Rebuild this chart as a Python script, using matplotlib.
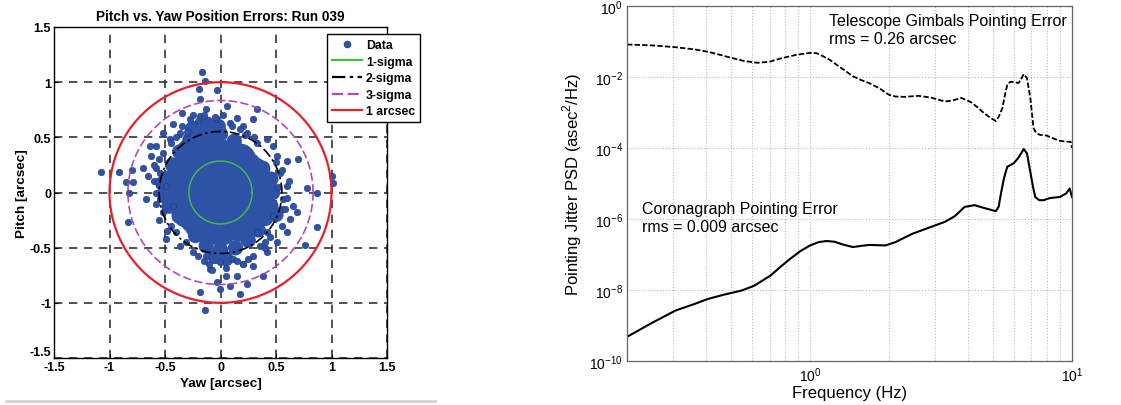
import numpy as np
import matplotlib
matplotlib.use('Agg')
import matplotlib.pyplot as plt
from matplotlib.lines import Line2D
from matplotlib.ticker import LogLocator, NullFormatter, NullLocator, FixedLocator

plt.rcParams['font.family'] = ['Liberation Sans', 'DejaVu Sans']
plt.rcParams['mathtext.fontset'] = 'custom'
plt.rcParams['mathtext.rm'] = 'Liberation Sans'

# ---------------------------------------------------------------
# Left panel data: pitch / yaw position errors (arcsec)
# ---------------------------------------------------------------
# dense centre of the cloud (drawn with large dots, they overlap into a solid blob)
core_big_x = [0.0, 0.18, -0.18, 0.0, 0.0, 0.13, -0.13, 0.13, -0.13,
              0.33, 0.29, 0.17, 0.0, -0.17, -0.29, -0.33, -0.29, -0.17, 0.0, 0.17, 0.29,
              -0.1, -0.25]
core_big_y = [0.0, 0.0, 0.0, 0.18, -0.18, 0.13, 0.13, -0.13, -0.13,
              0.0, 0.17, 0.29, 0.33, 0.29, 0.17, 0.0, -0.17, -0.29, -0.33, -0.29, -0.17,
              0.42, 0.35]

# edge of the blob
core_mid_x = [0.47, 0.454, 0.381, 0.283, 0.21, 0.124, 0.0, -0.145, -0.275, -0.368,
              -0.433, -0.483, -0.5, -0.464, -0.372, -0.283, -0.225, -0.129, 0.0, 0.135,
              0.25, 0.339, 0.407, 0.454, -0.12, -0.02, -0.25, 0.05, -0.05, 0.5, -0.52]
core_mid_y = [0.0, 0.122, 0.22, 0.283, 0.364, 0.464, 0.53, 0.541, 0.476, 0.368,
              0.25, 0.129, 0.0, -0.124, -0.215, -0.283, -0.39, -0.483, -0.52, -0.502,
              -0.433, -0.339, -0.235, -0.122, 0.62, 0.6, 0.58, -0.6, -0.58, -0.2, 0.08]

# individual scattered samples
pts_x = [-0.166, -0.142, -0.187, -0.036, 0.063, 0.325, 0.295, -0.193, -1.075, -0.91,
         -0.855, -0.789, -0.82, -0.795, -0.699, -0.669, -0.834, 1.009, 1.018, 0.867,
         0.867, 0.762, 0.777, 0.702, 0.596, 0.657, 0.627, -0.187, -0.142, 0.175,
         0.235, -0.096, -0.036, 0.084, 0.054, 0.295, -0.428, -0.578, -0.623, -0.488,
         -0.367, -0.307, -0.277, -0.127, 0.145, 0.416, 0.506, 0.536, 0.476, 0.416,
         0.355, 0.506, 0.596, 0.687, -0.488, -0.578, -0.548, -0.639, -0.518, -0.458,
         -0.518, -0.367, -0.187, -0.036, 0.084, 0.235, 0.325, 0.476, -0.428, -0.518,
         -0.548, -0.578, 0.295, 0.114, -0.006, -0.127, -0.247, -0.398, -0.307, 0.386,
         0.145, -0.006, 0.325, 0.416, 0.566, 0.596, -0.35, -0.25, 0.02, 0.2,
         -0.6, -0.65, 0.55, 0.62, -0.08, 0.05, 0.2, -0.45, 0.4, 0.52,
         -0.45, -0.4, -0.35, -0.3, -0.2, -0.15, -0.05, 0.1, 0.18, -0.55,
         -0.6, -0.56, -0.58, -0.55, 0.55, 0.58, 0.55, 0.5, 0.45, 0.4,
         0.25, 0.2, 0.15, -0.1, -0.15, -0.2, 0.3, 0.22, -0.48, 0.6]
pts_y = [1.093, 1.01, 0.843, 0.928, 0.783, 0.759, 0.663, 0.934, 0.187, 0.187,
         0.096, 0.096, 0.0, 0.2, 0.226, -0.06, -0.265, 0.151, 0.09, 0.0,
         -0.31, -0.476, 0.045, 0.301, 0.286, -0.12, -0.241, -0.904, -1.069, -0.919,
         -0.828, -0.693, -0.813, -0.843, -0.753, -0.663, 0.617, 0.422, 0.331, -0.422,
         -0.482, 0.482, 0.663, 0.753, 0.678, 0.482, 0.331, 0.181, -0.211, -0.361,
         -0.482, -0.452, -0.361, -0.181, 0.06, 0.0, 0.181, 0.422, 0.361, 0.482,
         0.542, 0.542, 0.693, 0.663, 0.633, 0.542, 0.452, 0.422, -0.12, -0.181,
         -0.06, 0.226, -0.572, -0.602, -0.633, -0.572, -0.542, -0.361, -0.452, -0.753,
         -0.753, -0.873, -0.361, -0.542, -0.06, 0.06, 0.72, 0.7, 0.7, 0.6,
         0.1, 0.15, -0.15, 0.1, -0.7, -0.68, -0.65, -0.3, -0.45, 0.05,
         0.45, 0.5, 0.6, 0.55, 0.65, 0.7, 0.68, 0.6, 0.58, 0.3,
         0.25, 0.1, -0.1, -0.25, -0.3, -0.15, 0.2, 0.28, -0.4, -0.5,
         -0.6, -0.65, -0.62, -0.65, -0.62, -0.58, 0.5, 0.52, -0.35, -0.05]

ring_names = ['1-sigma', '2-sigma', '3-sigma', '1 arcsec']
ring_radius = [0.285, 0.553, 0.834, 1.0]
ring_colors = ['#3FC43F', 'black', '#B548B5', '#E8202E']
ring_styles = ['-', (0, (6, 2, 1.5, 2)), (0, (5, 2)), '-']
ring_widths = [1.0, 1.2, 1.2, 1.6]

# ---------------------------------------------------------------
# Right panel data: pointing jitter PSD (asec^2/Hz) vs frequency (Hz)
# ---------------------------------------------------------------
gimbal_f = [0.2, 0.25, 0.306, 0.36, 0.408, 0.45, 0.5, 0.56, 0.63, 0.7, 0.77, 0.88, 1.0,
            1.06, 1.12, 1.19, 1.26, 1.36, 1.456, 1.56, 1.68, 1.84, 2.0, 2.12, 2.3,
            2.59, 2.9, 3.27, 3.5, 3.78, 4.12, 4.35, 4.62, 4.9, 5.12, 5.25, 5.42,
            5.55, 5.66, 5.8, 5.99, 6.25, 6.4, 6.54, 6.73, 6.93, 7.13, 7.3, 7.54,
            8.0, 8.48, 8.98, 9.6, 9.9, 10.0]
gimbal_log = [-1.085, -1.11, -1.16, -1.22, -1.29, -1.37, -1.46, -1.55, -1.6, -1.57,
              -1.48, -1.38, -1.32, -1.33, -1.415, -1.52, -1.65, -1.82, -1.98, -2.08,
              -2.17, -2.32, -2.5, -2.55, -2.56, -2.53, -2.58, -2.69, -2.66, -2.59,
              -2.71, -2.85, -3.02, -3.16, -3.24, -3.12, -2.88, -2.5, -2.22, -2.14,
              -2.14, -2.17, -2.05, -1.92, -2.03, -2.59, -3.44, -3.58, -3.63,
              -3.65, -3.73, -3.8, -3.82, -3.83, -4.0]

corona_f = [0.2, 0.25, 0.306, 0.36, 0.408, 0.47, 0.545, 0.612, 0.707, 0.77, 0.84, 0.92,
            1.0, 1.08, 1.155, 1.24, 1.335, 1.456, 1.56, 1.68, 1.94, 2.12, 2.45,
            2.83, 3.27, 3.57, 3.89, 4.24, 4.62, 5.12, 5.25, 5.34, 5.5, 5.66, 5.99,
            6.25, 6.54, 6.73, 6.93, 7.1, 7.24, 7.5, 7.79, 8.23, 8.98, 9.5, 9.8, 10.0]
corona_log = [-9.32, -8.92, -8.58, -8.4, -8.25, -8.13, -8.02, -7.88, -7.59, -7.35,
              -7.12, -6.9, -6.745, -6.65, -6.62, -6.64, -6.72, -6.79, -6.76, -6.73,
              -6.745, -6.65, -6.42, -6.25, -6.08, -5.92, -5.66, -5.61, -5.69, -5.78,
              -5.65, -5.33, -4.85, -4.53, -4.43, -4.27, -4.03, -4.15, -4.67, -5.1,
              -5.38, -5.47, -5.47, -5.41, -5.38, -5.28, -5.14, -5.38]

W, H = 1121, 406
fig = plt.figure(figsize=(W / 100, H / 100), dpi=100)

# ===============================================================
# Left: pitch vs yaw scatter
# ===============================================================
ax = fig.add_axes([54 / W, (H - 359) / H, 333 / W, 331 / H])
dot = '#2E52A6'
ax.scatter(core_big_x, core_big_y, s=600, color=dot, edgecolors='none', zorder=2)
ax.scatter(core_mid_x, core_mid_y, s=120, color=dot, edgecolors='none', zorder=2)
ax.scatter(pts_x, pts_y, s=22, color=dot, edgecolors='#1F3680', linewidths=0.4, zorder=2)

t = np.linspace(0, 2 * np.pi, 400)
for r, c, ls, lw in zip(ring_radius, ring_colors, ring_styles, ring_widths):
    ax.plot(r * np.cos(t), r * np.sin(t), color=c, ls=ls, lw=lw, zorder=3)

ax.set_xlim(-1.5, 1.5)
ax.set_ylim(-1.5, 1.5)
ticks = [-1.5, -1, -0.5, 0, 0.5, 1, 1.5]
tick_labels = ['-1.5', '-1', '-0.5', '0', '0.5', '1', '1.5']
ax.set_xticks(ticks)
ax.set_yticks(ticks)
ax.set_xticklabels(tick_labels)
ax.set_yticklabels(tick_labels)
ax.tick_params(direction='in', length=3, labelsize=9, pad=2)
for lab in ax.get_xticklabels() + ax.get_yticklabels():
    lab.set_fontweight('bold')
# MATLAB nudges the corner label upward
ax.get_yticklabels()[0].set_va('bottom')
ax.grid(True, color='#333333', ls=(0, (5, 4)), lw=1.2)
ax.set_axisbelow(True)
for sp in ax.spines.values():
    sp.set_linewidth(1.0)
ax.set_title('Pitch vs. Yaw Position Errors: Run 039', fontsize=9.8,
             fontweight='bold', pad=5)
ax.set_xlabel('Yaw [arcsec]', fontsize=9.7, fontweight='bold', labelpad=3)
ax.set_ylabel('Pitch [arcsec]', fontsize=9.7, fontweight='bold', labelpad=1)

handles = [Line2D([], [], ls='none', marker='o', ms=4.5, color=dot, label='Data')]
for name, c, ls, lw in zip(ring_names, ring_colors, ring_styles, ring_widths):
    handles.append(Line2D([], [], color=c, ls=ls, lw=1.6, label=name))
leg = ax.legend(handles=handles, loc='upper left',
                bbox_to_anchor=((327 - 54) / 333, (359 - 35) / 331),
                fancybox=False, edgecolor='black', framealpha=1,
                prop={'weight': 'bold', 'size': 8.8}, handlelength=2.5,
                handletextpad=0.3, labelspacing=0.38, borderpad=0.4,
                borderaxespad=0)
leg.get_frame().set_linewidth(1.0)
leg.set_zorder(10)

# thin grey rule under the left panel
fig.add_artist(Line2D([6 / W, 435 / W], [(H - 402) / H] * 2, color='#D3D3D3', lw=2))

# ===============================================================
# Right: pointing jitter PSD
# ===============================================================
ax = fig.add_axes([627 / W, (H - 362) / H, 445 / W, 355 / H])
ax.plot(gimbal_f, 10 ** np.array(gimbal_log), color='black', lw=1.3, ls=(0, (3, 1.2)))
ax.plot(corona_f, 10 ** np.array(corona_log), color='black', lw=1.5)
ax.set_xscale('log')
ax.set_yscale('log')
ax.set_xlim(0.2, 10)
ax.set_ylim(1e-10, 1)

ax.xaxis.set_major_locator(FixedLocator([1, 10]))
ax.xaxis.set_minor_locator(LogLocator(base=10, subs=np.arange(2, 10)))
ax.xaxis.set_minor_formatter(NullFormatter())
ax.yaxis.set_major_locator(FixedLocator([1e-10, 1e-8, 1e-6, 1e-4, 1e-2, 1]))
ax.yaxis.set_minor_locator(NullLocator())
ax.grid(True, which='major', color='#BBBBBB', ls=':', lw=0.8)
ax.grid(True, which='minor', axis='x', color='#BBBBBB', ls=':', lw=0.8)
ax.tick_params(which='both', direction='in', length=0, labelsize=10, pad=3,
               colors='black')
for sp in ax.spines.values():
    sp.set_color('#666666')
    sp.set_linewidth(0.9)

ax.set_xlabel('Frequency (Hz)', fontsize=12, labelpad=1)
ax.set_ylabel('Pointing Jitter PSD (asec$^2$/Hz)', fontsize=12, labelpad=4)

ax.text(1.18, 10 ** -0.2, 'Telescope Gimbals Pointing Error\nrms = 0.26 arcsec',
        fontsize=11.5, va='top', ha='left', linespacing=1.2)
ax.text(0.228, 10 ** -5.5, 'Coronagraph Pointing Error\nrms = 0.009 arcsec',
        fontsize=11.5, va='top', ha='left', linespacing=1.2)

fig.savefig('out.png', dpi=100)
